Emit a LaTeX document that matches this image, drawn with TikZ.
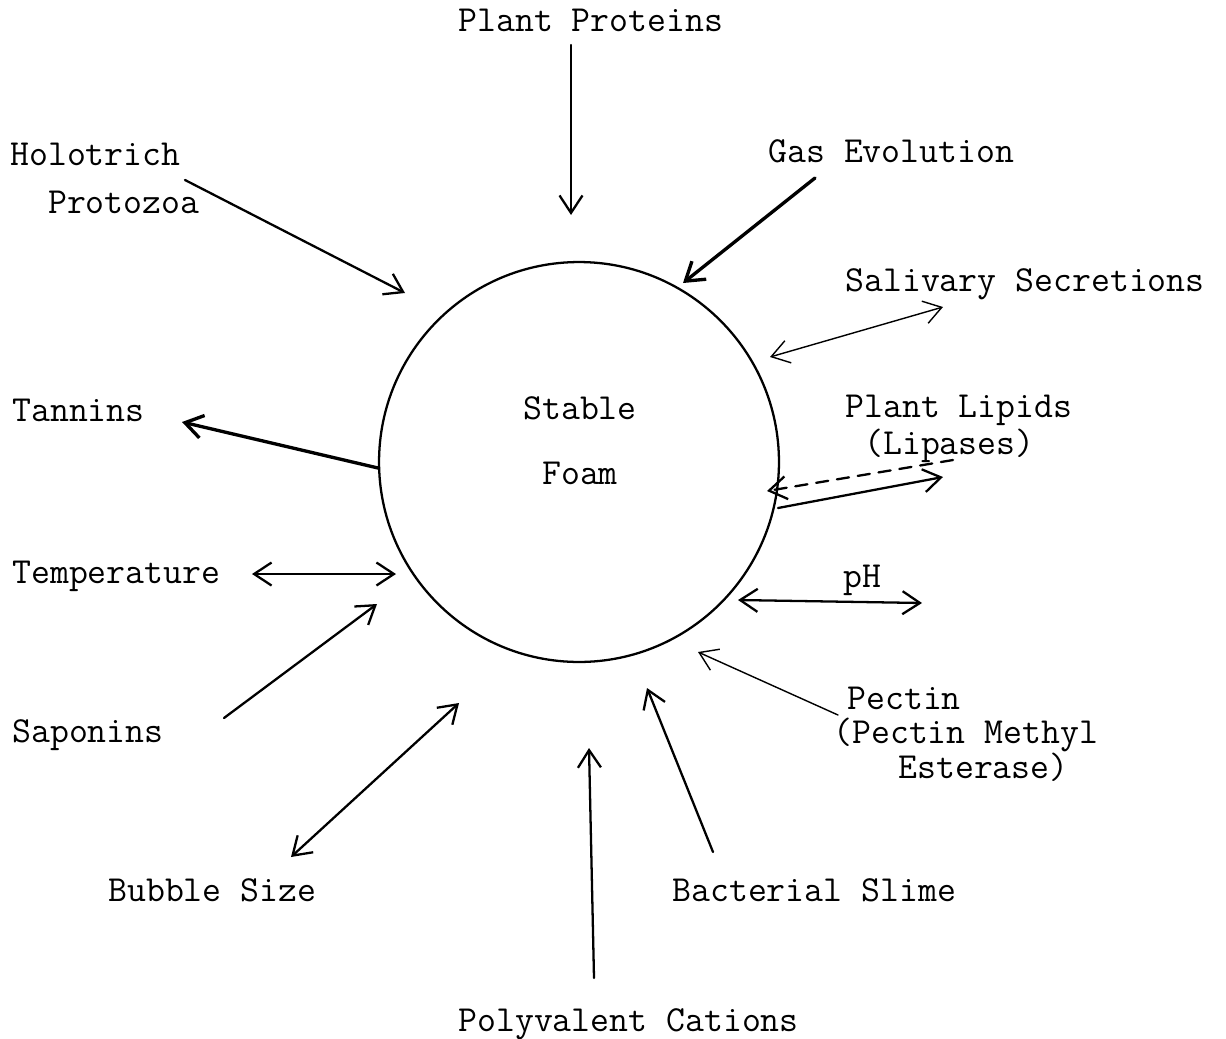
\documentclass[tikz,border=0pt]{standalone}
\usepackage{fontspec}
\usetikzlibrary{arrows.meta}

\begin{document}
\begin{tikzpicture}[x=0.02cm,y=-0.02cm,>={Straight Barb[length=3.5mm,width=4.6mm]},line cap=round,line join=round,
  lbl/.style={font=\ttfamily\fontsize{20.9}{25}\selectfont,inner sep=0pt,anchor=base west,align=left},
  arr/.style={line width=1.3pt},
  thin arr/.style={line width=0.8pt},
  thick arr/.style={line width=1.9pt}]
\useasboundingbox (0,0) rectangle (1226,1038);
% the foam
\node[draw,circle,line width=1.3pt,minimum size=8cm,inner sep=0pt] (foam) at (579,462) {};
\node[lbl,anchor=center,align=center] (stable) at (580,441) {Stable\\[12pt]Foam};
% labels
\node[lbl] (pp) at (458,31) {Plant Proteins};
\node[lbl] (holo) at (10,213) {Holotrich\\[2pt]\phantom{Ho}Protozoa};
\node[lbl] (gas) at (768,162) {Gas Evolution};
\node[lbl] (saliv) at (845,291) {Salivary Secretions};
\node[lbl] (lipid) at (845,454) {Plant Lipids\\[-4.4pt]\phantom{P}(Lipases)};
\node[lbl] (tann) at (12,421) {Tannins};
\node[lbl] (temp) at (12,583) {Temperature};
\node[lbl] (ph) at (843,587) {pH};
\node[lbl] (sapo) at (12,742) {Saponins};
\node[lbl] (pect) at (833,778) {\hspace{8pt}Pectin\\[-5.7pt](Pectin Methyl\\[-5.2pt]\hspace{37pt}Esterase)};
\node[lbl] (bubb) at (108,901) {Bubble Size};
\node[lbl] (bact) at (672,901) {Bacterial Slime};
\node[lbl] (poly) at (458,1031) {Polyvalent Cations};
% arrow ends
\coordinate (pp-a) at (571,45);   \coordinate (pp-b) at (571,215);
\coordinate (holo-a) at (185,180); \coordinate (holo-b) at (405,293);
\coordinate (gas-a) at (815,178);  \coordinate (gas-b) at (683,283);
\coordinate (sal-a) at (943,307);  \coordinate (sal-b) at (770,357);
\coordinate (lip-a) at (953,460);  \coordinate (lip-b) at (767,491);
\coordinate (lip-c) at (778,508);  \coordinate (lip-d) at (943,477);
\coordinate (tan-a) at (378,468);  \coordinate (tan-b) at (182,422);
\coordinate (tmp-a) at (252,574);  \coordinate (tmp-b) at (396,574);
\coordinate (sap-a) at (224,718);  \coordinate (sap-b) at (377,604);
\coordinate (ph-a) at (738,600);   \coordinate (ph-b) at (922,603);
\coordinate (pec-a) at (838,715);  \coordinate (pec-b) at (698,652);
\coordinate (bub-a) at (291,857);  \coordinate (bub-b) at (459,703);
\coordinate (pol-a) at (594,978);  \coordinate (pol-b) at (589,748);
\coordinate (bac-a) at (713,852);  \coordinate (bac-b) at (647,688);
% connectors
\draw[arr,->] (pp-a) -- (pp-b);
\draw[arr,->] (holo-a) -- (holo-b);
\draw[thick arr,->] (gas-a) -- (gas-b);
\draw[thin arr,<->] (sal-b) -- (sal-a);
\draw[arr,->,dash pattern=on 7pt off 5pt] (lip-a) -- (lip-b);
\draw[arr,->] (lip-c) -- (lip-d);
\draw[thick arr,->] (tan-a) -- (tan-b);
\draw[arr,<->] (tmp-a) -- (tmp-b);
\draw[arr,->] (sap-a) -- (sap-b);
\draw[arr,<->] (ph-a) -- (ph-b);
\draw[thin arr,->] (pec-a) -- (pec-b);
\draw[arr,<->] (bub-a) -- (bub-b);
\draw[arr,->] (pol-a) -- (pol-b);
\draw[arr,->] (bac-a) -- (bac-b);
\end{tikzpicture}
\end{document}
